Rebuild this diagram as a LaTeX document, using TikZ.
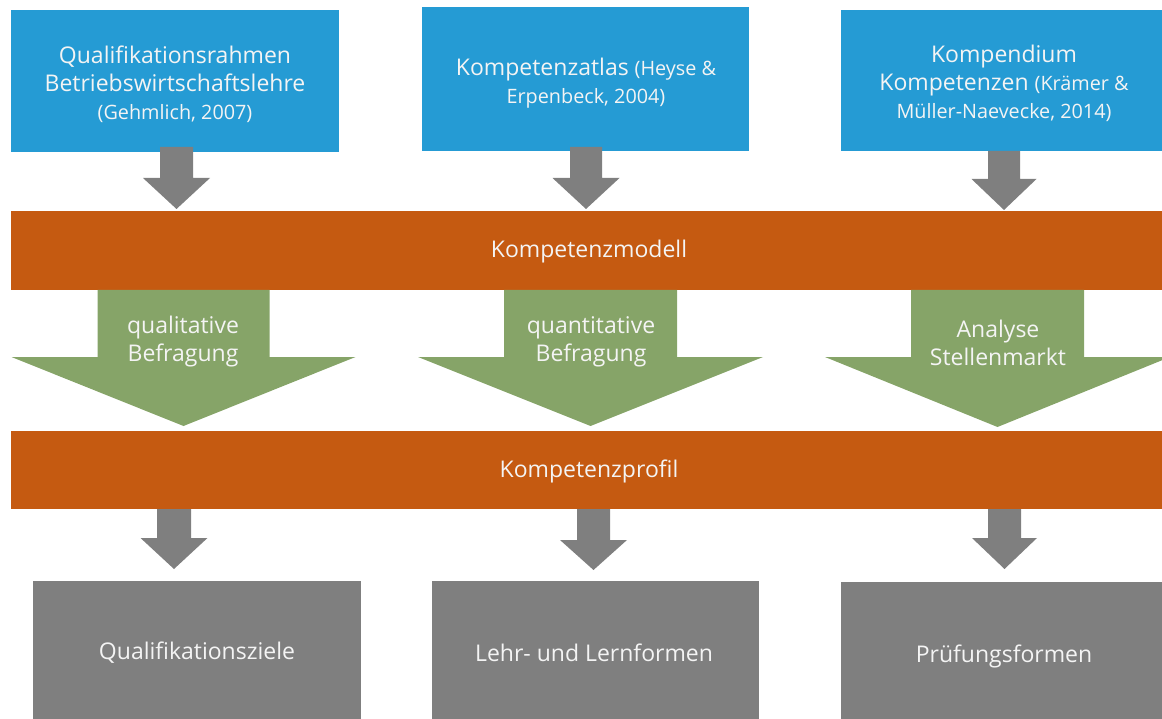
\documentclass[tikz,border=0pt]{standalone}
\usepackage{fontspec}
\setmainfont{Open Sans}
\usetikzlibrary{calc}
\definecolor{cblue}{HTML}{259BD4}
\definecolor{corange}{HTML}{C55A11}
\definecolor{cgreen}{HTML}{86A468}
\definecolor{cgray}{HTML}{7F7F7F}
\definecolor{ctext}{HTML}{F4F4F4}
\newcommand{\bigtxt}{\fontsize{23}{28}\selectfont}
\newcommand{\smalltxt}{\fontsize{19.8}{28}\selectfont}
\newcommand{\blockarrow}[7]{%
  \fill[#7] ({#1-#5},#2) -- ({#1+#5},#2) -- ({#1+#5},#3) -- ({#1+#6},#3) -- (#1,#4) -- ({#1-#6},#3) -- ({#1-#5},#3) -- cycle;}
\tikzset{
  box/.style={rectangle, inner sep=0pt, align=center, text=ctext, font=\bigtxt},
  bluebox/.style={box, fill=cblue},
  graybox/.style={box, fill=cgray},
  band/.style={box, fill=corange, minimum width=1156pt, minimum height=79pt},
  lbl/.style={inner sep=0pt, align=center, text=ctext, font=\bigtxt}
}
\begin{document}
\begin{tikzpicture}[x=1pt,y=-1pt]
\useasboundingbox (0,0) rectangle (1162,719);
% top boxes
\node[bluebox, minimum width=328pt, minimum height=142pt] (q1) at (175,81) {};
\node[lbl] (q1t) at (175,84) {Qualifikationsrahmen\\Betriebswirtschaftslehre\\{\smalltxt (Gehmlich, 2007)}};
\node[bluebox, minimum width=327pt, minimum height=144pt] (q2) at (585.5,79) {};
\node[lbl] (q2t) at (586,83) {Kompetenzatlas {\smalltxt (Heyse \&}\\{\smalltxt Erpenbeck, 2004)}};
\node[bluebox, minimum width=326pt, minimum height=141pt] (q3) at (1004,80.5) {};
\node[lbl] (q3t) at (1004,83) {Kompendium\\Kompetenzen {\smalltxt (Krämer \&}\\{\smalltxt Müller-Naevecke, 2014)}};
% bands
\node[band] (modell) at (589,250.5) {};
\node[lbl] (modellt) at (589,252) {Kompetenzmodell};
\node[band, minimum height=78pt] (profil) at (589,470) {};
\node[lbl] (profilt) at (589,471) {Kompetenzprofil};
% bottom boxes
\node[graybox, minimum width=328pt, minimum height=142pt] (z1) at (197,652) {};
\node[lbl] (z1t) at (197,653) {Qualifikationsziele};
\node[graybox, minimum width=327pt, minimum height=142pt] (z2) at (595.5,652) {};
\node[lbl] (z2t) at (594,653) {Lehr- und Lernformen};
\node[graybox, minimum width=326pt, minimum height=146pt] (z3) at (1004,655) {};
\node[lbl] (z3t) at (1004,656) {Prüfungsformen};
% top gray arrows
\blockarrow{176.5}{147}{178}{209}{16.5}{33.5}{cgray}
\blockarrow{586}{147}{178}{209}{16}{33.5}{cgray}
\blockarrow{1004}{151}{179}{210}{16}{32.5}{cgray}
% green arrows
\blockarrow{183.5}{290}{357}{426}{86}{172}{cgreen}
\blockarrow{590.5}{290}{357}{426}{86.5}{172.5}{cgreen}
\blockarrow{997.5}{290}{357}{427}{86.5}{172.5}{cgreen}
\node[lbl] (g1) at (183,342) {qualitative\\Befragung};
\node[lbl] (g2) at (591,342) {quantitative\\Befragung};
\node[lbl] (g3) at (998,343) {Analyse\\Stellenmarkt};
% bottom gray arrows
\blockarrow{174}{509}{538}{569}{17}{33.5}{cgray}
\blockarrow{593.5}{509}{540}{570}{16.5}{33.5}{cgray}
\blockarrow{1004.5}{509}{538}{569}{16.5}{32.5}{cgray}
\end{tikzpicture}
\end{document}
